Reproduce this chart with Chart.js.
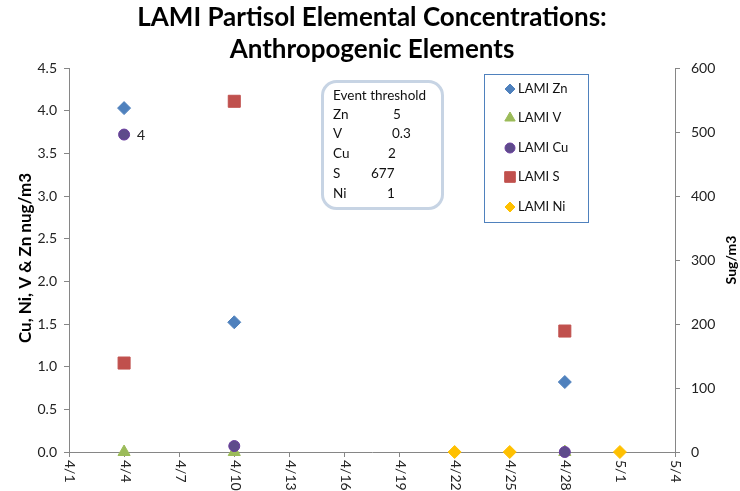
<!DOCTYPE html>
<html>
<head>
<meta charset="utf-8">
<script src="https://cdn.jsdelivr.net/npm/chart.js@4.4.1/dist/chart.umd.min.js"></script>
<style>
  html, body { margin: 0; padding: 0; background: #ffffff; }
  #wrap { width: 740px; height: 491px; }
</style>
</head>
<body>
<div id="wrap"><canvas id="chart" width="740" height="491"></canvas></div>
<script>
// Sampling dates (month/day) and measured concentrations
const sampleDates = ['4/4', '4/10', '4/22', '4/25', '4/28', '5/1'];
const znValues = [4.03, 1.52, null, null, 0.82, null];   // ug/m3
const vValues  = [0, 0, null, null, 0, null];
const cuValues = [3.72, 0.07, null, null, 0, null];
const sValues  = [139, 548, null, null, 189, null];      // right axis
const niValues = [null, null, 0, 0, null, 0];

// Axis ranges and tick labels
const axisStartDate = '4/1';
const axisEndDate = '5/4';
const dateTickStep = 3;
const leftTicks = [0, 0.5, 1.0, 1.5, 2.0, 2.5, 3.0, 3.5, 4.0, 4.5];
const rightTicks = [0, 100, 200, 300, 400, 500, 600];

// Event threshold note
const thresholdTitle = 'Event threshold';
const thresholdNames = ['Zn', 'V', 'Cu', 'S', 'Ni'];
const thresholdValues = ['5', '0.3', '2', '677', '1'];

const titleLines = ['LAMI Partisol Elemental Concentrations:', 'Anthropogenic Elements'];
const leftAxisTitle = 'Cu, Ni, V & Zn nug/m3';
const rightAxisTitle = 'Sug/m3';

const FONT = 'Lato, "Open Sans", "DejaVu Sans", sans-serif';
const AXIS_GREY = '#868686';

// Convert "m/d" to a day offset from April 1
function dayOffset(md) {
  const [m, d] = md.split('/').map(Number);
  return (m === 4 ? d : 30 + d) - 1;
}
function offsetLabel(off) {
  const day = off + 1;
  return day <= 30 ? '4/' + day : '5/' + (day - 30);
}
function points(values) {
  const out = [];
  values.forEach((v, i) => { if (v !== null) out.push({ x: dayOffset(sampleDates[i]), y: v }); });
  return out;
}

const xMin = dayOffset(axisStartDate);
const xMax = dayOffset(axisEndDate);

const datasets = [
  { label: 'LAMI Zn', data: points(znValues), yAxisID: 'y', order: 5,
    pointStyle: 'rectRot', pointRadius: 6.5, backgroundColor: '#4F81BD', borderColor: '#4F81BD', borderWidth: 1 },
  { label: 'LAMI V', data: points(vValues), yAxisID: 'y', order: 4,
    pointStyle: 'triangle', pointRadius: 7, backgroundColor: '#9BBB59', borderColor: '#9BBB59', borderWidth: 1 },
  { label: 'LAMI Cu', data: points(cuValues), yAxisID: 'y', order: 3,
    pointStyle: 'circle', pointRadius: 5.5, backgroundColor: '#5E4B8B', borderColor: '#6A3D9E', borderWidth: 1 },
  { label: 'LAMI S', data: points(sValues), yAxisID: 'y2', order: 2,
    pointStyle: 'rect', pointRadius: 8.5, backgroundColor: '#C0504D', borderColor: '#C0504D', borderWidth: 1 },
  { label: 'LAMI Ni', data: points(niValues), yAxisID: 'y', order: 1,
    pointStyle: 'rectRot', pointRadius: 6.5, backgroundColor: '#FFC000', borderColor: '#FFC000', borderWidth: 1 }
];
datasets.forEach(ds => { ds.showLine = false; ds.clip = false; ds.pointHoverRadius = ds.pointRadius; });

function drawMarker(ctx, style, r, x, y, fill, stroke) {
  if (Chart.helpers && Chart.helpers.drawPoint) {
    ctx.save();
    ctx.fillStyle = fill; ctx.strokeStyle = stroke; ctx.lineWidth = 1;
    Chart.helpers.drawPoint(ctx, { pointStyle: style, radius: r, borderWidth: 1, rotation: 0 }, x, y);
    ctx.restore();
  }
}

const annotations = {
  id: 'annotations',
  afterDraw(chart) {
    const ctx = chart.ctx;
    const x = chart.scales.x;
    const yL = chart.scales.y;
    const yR = chart.scales.y2;
    ctx.save();

    // Title
    ctx.fillStyle = '#000';
    ctx.textAlign = 'center';
    ctx.textBaseline = 'middle';
    ctx.font = 'bold 26px ' + FONT;
    ctx.fillText(titleLines[0], 372, 18);
    ctx.fillText(titleLines[1], 372, 50);

    // Date tick labels, rotated to read downward
    ctx.font = '14px ' + FONT;
    ctx.fillStyle = '#222';
    x.ticks.forEach(t => {
      const px = x.getPixelForValue(t.value);
      ctx.save();
      ctx.translate(px + 1, yL.bottom + 8);
      ctx.rotate(Math.PI / 2);
      ctx.textAlign = 'left';
      ctx.textBaseline = 'middle';
      ctx.fillText(offsetLabel(t.value), 0, 0);
      ctx.restore();
    });

    // Axis titles
    ctx.fillStyle = '#000';
    ctx.font = 'bold 17px ' + FONT;
    ctx.save();
    ctx.translate(26, (yL.top + yL.bottom) / 2 - 2);
    ctx.rotate(-Math.PI / 2);
    ctx.textAlign = 'center';
    ctx.textBaseline = 'middle';
    ctx.fillText(leftAxisTitle, 0, 0);
    ctx.restore();
    ctx.font = 'bold 14px ' + FONT;
    ctx.save();
    ctx.translate(731, (yR.top + yR.bottom) / 2);
    ctx.rotate(-Math.PI / 2);
    ctx.textAlign = 'center';
    ctx.textBaseline = 'middle';
    ctx.fillText(rightAxisTitle, 0, 0);
    ctx.restore();

    // Value label on the first Cu sample
    const cuMeta = chart.getDatasetMeta(2);
    const cuPt = cuMeta.data[0];
    ctx.font = '14px ' + FONT;
    ctx.fillStyle = '#222';
    ctx.textAlign = 'left';
    ctx.textBaseline = 'middle';
    ctx.fillText(String(Math.round(cuMeta._dataset.data[0].y)), cuPt.x + 13, cuPt.y + 1);

    // Event threshold note
    ctx.beginPath();
    ctx.roundRect(322.5, 81.5, 120, 127, 14);
    ctx.fillStyle = '#fff';
    ctx.fill();
    ctx.strokeStyle = '#C7D4E4';
    ctx.lineWidth = 3;
    ctx.stroke();
    ctx.fillStyle = '#111';
    ctx.font = '13.5px ' + FONT;
    ctx.textAlign = 'left';
    ctx.textBaseline = 'middle';
    ctx.fillText(thresholdTitle, 333, 96);
    const rowY = [115, 134, 154, 174, 194];
    const valX = [393, 392, 388, 371, 387];
    thresholdNames.forEach((n, i) => {
      ctx.fillText(n, 333, rowY[i]);
      ctx.fillText(thresholdValues[i], valX[i], rowY[i]);
    });

    // Legend
    ctx.strokeStyle = '#4F81BD';
    ctx.lineWidth = 1;
    ctx.strokeRect(484.5, 74.5, 104, 148);
    const legY = [89, 118, 148, 177, 207];
    const legR = [5, 6, 5, 7.5, 5];
    ctx.font = '13px ' + FONT;
    chart.data.datasets.forEach((ds, i) => {
      drawMarker(ctx, ds.pointStyle, legR[i], 510, legY[i], ds.backgroundColor, ds.borderColor);
      ctx.fillStyle = '#111';
      ctx.textAlign = 'left';
      ctx.textBaseline = 'middle';
      ctx.fillText(ds.label, 518, legY[i]);
    });

    ctx.restore();
  }
};

new Chart(document.getElementById('chart'), {
  type: 'scatter',
  data: { datasets },
  options: {
    responsive: false,
    animation: false,
    devicePixelRatio: 1,
    layout: { padding: { top: 68, left: 0, right: 0, bottom: 0 } },
    plugins: { legend: { display: false }, title: { display: false }, tooltip: { enabled: false } },
    scales: {
      x: {
        type: 'linear', min: xMin, max: xMax,
        afterBuildTicks(scale) {
          const t = [];
          for (let v = xMin; v <= xMax; v += dateTickStep) t.push({ value: v });
          scale.ticks = t;
        },
        afterFit(scale) { scale.height = 39; },
        ticks: { display: false },
        grid: { drawOnChartArea: false, drawTicks: true, tickLength: 5, color: AXIS_GREY },
        border: { display: true, color: AXIS_GREY, width: 1 }
      },
      y: {
        type: 'linear', position: 'left', min: 0, max: 4.5,
        afterBuildTicks(scale) { scale.ticks = leftTicks.map(v => ({ value: v })); },
        afterFit(scale) { scale.width = 69; },
        ticks: {
          padding: 7, color: '#222', font: { family: FONT, size: 14 },
          callback: v => Number(v).toFixed(1)
        },
        grid: { drawOnChartArea: false, drawTicks: true, tickLength: 5, color: AXIS_GREY },
        border: { display: true, color: AXIS_GREY, width: 1 }
      },
      y2: {
        type: 'linear', position: 'right', min: 0, max: 600,
        afterBuildTicks(scale) { scale.ticks = rightTicks.map(v => ({ value: v })); },
        afterFit(scale) { scale.width = 65; },
        ticks: { padding: 11, color: '#222', font: { family: FONT, size: 14 }, callback: v => String(v) },
        grid: { drawOnChartArea: false, drawTicks: true, tickLength: 5, color: AXIS_GREY },
        border: { display: true, color: AXIS_GREY, width: 1 }
      }
    }
  },
  plugins: [annotations]
});
</script>
</body>
</html>
